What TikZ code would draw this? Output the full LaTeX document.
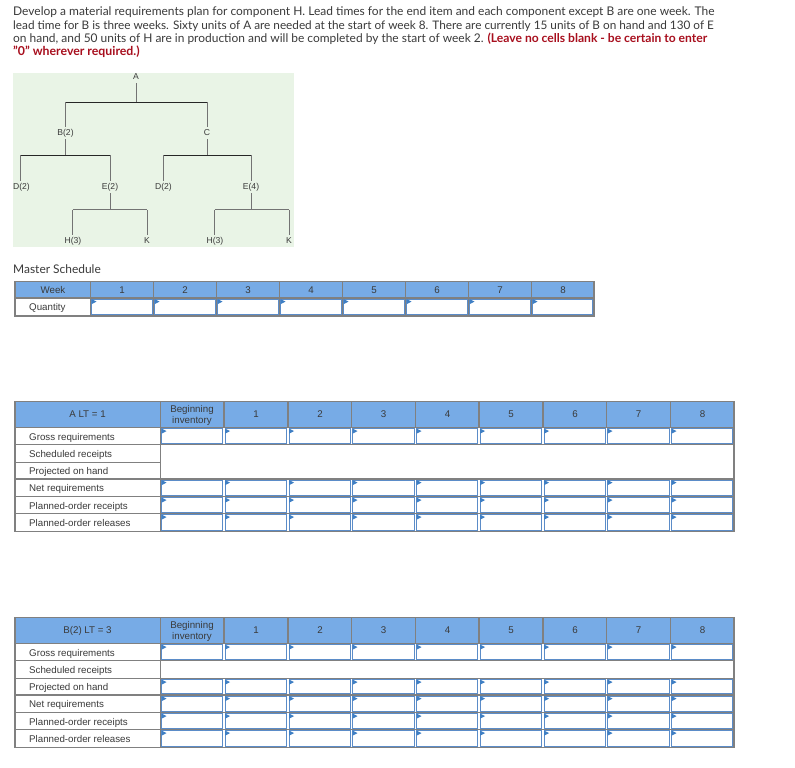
\documentclass[tikz,border=0pt]{standalone}
\usepackage{fontspec}
\setmainfont{Lato}
\newfontfamily\tabfont{Liberation Sans}
\definecolor{hdr}{HTML}{77ABE6}
\definecolor{grid}{HTML}{808080}
\definecolor{inb}{HTML}{5B8CC8}
\definecolor{tri}{HTML}{3F7FC4}
\definecolor{ink}{HTML}{3A3A3A}
\definecolor{redt}{HTML}{A80F1E}
\definecolor{treebg}{HTML}{E9F4E6}
\tikzset{
  para/.style={anchor=base west,inner sep=0pt,text=ink,font=\fontsize{11.95}{13}\selectfont},
  parared/.style={anchor=base west,inner sep=0pt,text=redt,font=\fontsize{12.3}{13}\selectfont\bfseries},
  treelab/.style={inner sep=0pt,minimum height=12pt,text=ink,font=\tabfont\fontsize{8.6}{10}\selectfont},
  stem/.style={draw=black!55,line width=0.9pt},
  bus/.style={draw=black!85,line width=0.9pt},
  bus2/.style={draw=black!55,line width=1.1pt},
  rowlab/.style={anchor=base west,inner sep=0pt,text=ink,font=\tabfont\fontsize{9.75}{11}\selectfont},
  hd/.style={inner sep=0pt,text=ink,align=center,font=\tabfont\fontsize{9.75}{11}\selectfont},
  hdcell/.style={fill=hdr},
  gridline/.style={draw=grid,line width=1.1pt},
  inbox/.style={draw=inb,line width=1.2pt,fill=white},
  tribox/.style={fill=tri,draw=none}
}
% blue answer box inset in a grid cell
\newcommand{\ansbox}[4]{%
  \draw[inbox] (#1+1.2,#2+1.2) rectangle (#3-1.2,#4-1.2);
  \fill[tribox] (#1+1,#2+1) -- (#1+6,#2+3.6) -- (#1+1,#2+6.2) -- cycle;
}
% MRP table: #1 top y, #2 node-name prefix, #3 header text, #4 list of rows holding answer boxes
\newcommand{\mrptable}[4]{%
  \begin{scope}[yshift=-#1pt]
  \fill[hdcell] (15,0) rectangle (734,26);
  \foreach \ya/\yb in {#4}{
    \foreach \xa/\xb in {160.5/224,224/288,288/351.5,351.5/415.5,415.5/479,479/543,543/606.5,606.5/670.5,670.5/734}{
      \ansbox{\xa}{\ya}{\xb}{\yb}
    }
  }
  \foreach \x in {160.5,224,288,351.5,415.5,479,543,606.5,670.5}{\draw[gridline] (\x,0) -- (\x,26);}
  \draw[gridline] (15,0) rectangle (734,130);
  \draw[gridline] (160.5,0) -- (160.5,130);
  \node[hd] (#2h) at (87.5,13) {#3};
  \node[hd] (#2b) at (192,13.6) {Beginning\\inventory};
  \foreach \n [count=\i] in {224,288,351.5,415.5,479,543,606.5,670.5}{
    \node[hd] (#2w\i) at ({\n+32},13) {\i};
  }
  \node[rowlab] (#2r1) at (29,38.5) {Gross requirements};
  \node[rowlab] (#2r2) at (29,55.5) {Scheduled receipts};
  \node[rowlab] (#2r3) at (29,72.5) {Projected on hand};
  \node[rowlab] (#2r4) at (29,89.5) {Net requirements};
  \node[rowlab] (#2r5) at (29,107.5) {Planned-order receipts};
  \node[rowlab] (#2r6) at (29,124.5) {Planned-order releases};
  \end{scope}
}
\begin{document}
\begin{tikzpicture}[x=1pt,y=-1pt]
\useasboundingbox (0,0) rectangle (795,768);
\fill[white] (0,0) rectangle (795,768);
% statement
\node[para,font=\fontsize{11.98}{13}\selectfont] (l1) at (13,16) {Develop a material requirements plan for component H. Lead times for the end item and each component except B are one week. The};
\node[para,font=\fontsize{11.77}{13}\selectfont] (l2) at (13,29.3) {lead time for B is three weeks. Sixty units of A are needed at the start of week 8. There are currently 15 units of B on hand and 130 of E};
\node[anchor=base west,inner sep=0pt] (l3) at (13,42.3) {\fontsize{11.95}{13}\selectfont\textcolor{ink}{on hand, and 50 units of H are in production and will be completed by the start of week 2. }\textcolor{redt}{\fontsize{12.1}{13}\selectfont\bfseries (Leave no cells blank - be certain to enter}};
\node[parared] (l4) at (13,56) {"0" wherever required.)};
% product tree
\fill[treebg] (13,73) rectangle (294,247);
\node[treelab] (A) at (136,77) {A};
\node[treelab] (B) at (65.5,133) {B(2)};
\node[treelab] (C) at (207,133) {C};
\node[treelab] (D1) at (21.5,187) {D(2)};
\node[treelab] (E1) at (110,187) {E(2)};
\node[treelab] (D2) at (163.5,187) {D(2)};
\node[treelab] (E2) at (251,187) {E(4)};
\node[treelab] (H1) at (73,241) {H(3)};
\node[treelab] (K1) at (147,241) {K};
\node[treelab] (H2) at (215,241) {H(3)};
\node[treelab] (K2) at (289,241) {K};
\coordinate (busA) at (136,102);
\coordinate (busB) at (65.5,155);
\coordinate (busC) at (207,155);
\coordinate (busE) at (110,209.5);
\coordinate (busF) at (251,209.5);
\path[stem] (A) -- (busA);
\path[bus] (65.5,102) coordinate (aL) -- (207,102) coordinate (aR);
\path[stem] (B) -- (aL) (C) -- (aR) (B) -- (busB) (C) -- (busC);
\path[bus] (20.5,155) coordinate (bL) -- (110,155) coordinate (bR);
\path[bus] (163.5,155) coordinate (cL) -- (251,155) coordinate (cR);
\path[stem] (D1.north -| bL) -- (bL) (E1) -- (bR) (D2.north -| cL) -- (cL) (E2) -- (cR);
\path[stem] (E1) -- (busE) (E2) -- (busF);
\path[bus2] (72.5,209.5) coordinate (eL) -- (147,209.5) coordinate (eR);
\path[bus2] (214.5,209.5) coordinate (fL) -- (289,209.5) coordinate (fR);
\path[stem] (H1.north -| eL) -- (eL) (K1) -- (eR) (H2.north -| fL) -- (fL) (K2) -- (fR);
% master schedule
\node[para] (ms) at (13,273) {Master Schedule};
\fill[hdcell] (15,281.5) rectangle (594,298);
\foreach \xa/\xb in {90.5/153.5,153.5/216.5,216.5/279.5,279.5/342.5,342.5/405.5,405.5/468.5,468.5/531.5,531.5/594}{
  \ansbox{\xa}{298}{\xb}{316}
  \draw[gridline] (\xa,281.5) -- (\xa,316);
}
\draw[gridline] (15,281.5) rectangle (594,316);
\draw[gridline] (15,298) -- (594,298);
\node[hd] (wk) at (53,289.7) {Week};
\foreach \n [count=\i] in {90.5,153.5,216.5,279.5,342.5,405.5,468.5,531.5}{
  \node[hd] (m\i) at ({\n+31.5},289.7) {\i};
}
\node[rowlab] (qty) at (29,310.7) {Quantity};
% table A
\mrptable{401.5}{ta}{A LT = 1}{26/43,77.5/95,95/112,112/130}
\draw[gridline] (15,427.5) -- (734,427.5);
\draw[gridline] (15,444.5) -- (734,444.5);
\draw[gridline] (15,462.5) -- (160.5,462.5);
\draw[gridline] (15,479) -- (734,479);
\draw[gridline] (15,496.5) -- (734,496.5);
\draw[gridline] (15,513.5) -- (734,513.5);
% table B
\mrptable{617.5}{tb}{B(2) LT = 3}{26/43,61/77.5,77.5/95,95/112,112/130}
\draw[gridline] (15,643.5) -- (734,643.5);
\draw[gridline] (15,660.5) -- (734,660.5);
\draw[gridline] (15,678.5) -- (734,678.5);
\draw[gridline] (15,695) -- (734,695);
\draw[gridline] (15,712.5) -- (734,712.5);
\draw[gridline] (15,729.5) -- (734,729.5);
\end{tikzpicture}
\end{document}
